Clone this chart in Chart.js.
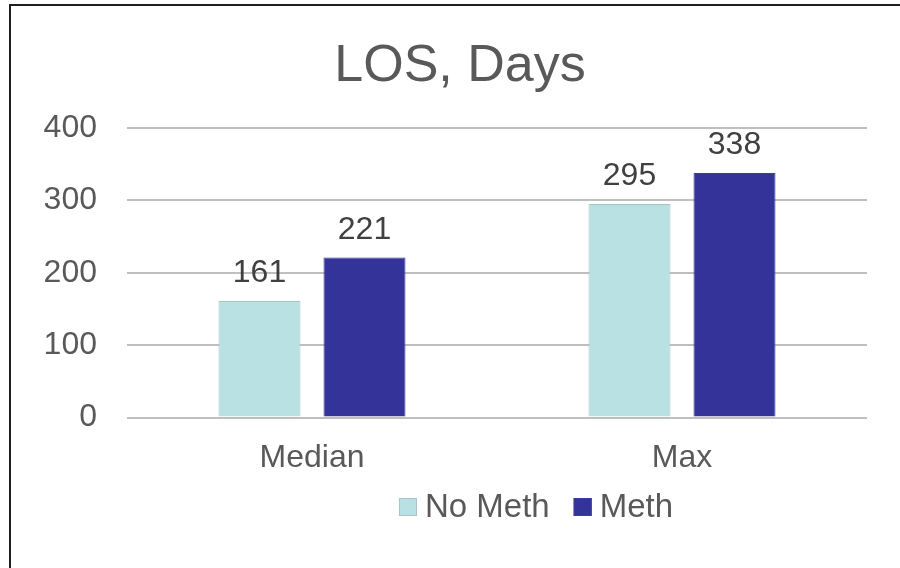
<!DOCTYPE html>
<html>
<head>
<meta charset="utf-8">
<title>LOS, Days</title>
<script src="https://cdn.jsdelivr.net/npm/chart.js@4"></script>
<style>
    html, body { margin: 0; padding: 0; background: #ffffff; }
    #wrap { position: relative; width: 900px; height: 568px; overflow: hidden; }
    #frame {
        position: absolute; left: 9px; top: 4px; width: 900px; height: 600px;
        border-top: 2px solid #1f1f1f; border-left: 2px solid #1f1f1f;
        pointer-events: none;
    }
    canvas { position: absolute; left: 0; top: 0; }
</style>
</head>
<body>
<div id="wrap">
    <canvas id="losChart" width="900" height="568"></canvas>
    <div id="frame"></div>
</div>
<script>
// chart data
var categories = ['Median', 'Max'];
var noMethValues = [161, 295];
var methValues = [221, 338];
var seriesNames = ['No Meth', 'Meth'];
var yTicks = [0, 100, 200, 300, 400];

var FONT = '"Liberation Sans", Arial, sans-serif';

// value labels above each bar
var valueLabels = {
    id: 'valueLabels',
    afterDatasetsDraw: function(chart) {
        var ctx = chart.ctx;
        ctx.save();
        ctx.font = '32px ' + FONT;
        ctx.fillStyle = '#404040';
        ctx.textAlign = 'center';
        ctx.textBaseline = 'alphabetic';
        chart.data.datasets.forEach(function(ds, i) {
            chart.getDatasetMeta(i).data.forEach(function(bar, j) {
                ctx.fillText(ds.data[j], bar.x, bar.y - 19);
            });
        });
        ctx.restore();
    }
};

// legend drawn under the axis, like the Excel one
var bottomLegend = {
    id: 'bottomLegend',
    afterDraw: function(chart) {
        var ctx = chart.ctx;
        var box = 18, gap = 8, spacing = 24;
        var centerX = 536, centerY = 507;
        ctx.save();
        ctx.font = '33px ' + FONT;
        var items = chart.data.datasets.map(function(ds) {
            return { label: ds.label, fill: ds.backgroundColor, stroke: ds.borderColor, w: ctx.measureText(ds.label).width };
        });
        var total = 0;
        items.forEach(function(it, i) {
            total += box + gap + it.w + (i < items.length - 1 ? spacing : 0);
        });
        var x = centerX - total / 2;
        ctx.textBaseline = 'middle';
        ctx.textAlign = 'left';
        items.forEach(function(it) {
            ctx.fillStyle = it.fill;
            ctx.fillRect(x, centerY - box / 2, box, box);
            ctx.strokeStyle = it.stroke;
            ctx.lineWidth = 1;
            ctx.strokeRect(x + 0.5, centerY - box / 2 + 0.5, box - 1, box - 1);
            ctx.fillStyle = '#595959';
            ctx.fillText(it.label, x + box + gap, centerY + 1);
            x += box + gap + it.w + spacing;
        });
        ctx.restore();
    }
};

var canvas = document.getElementById('losChart');

var losChart = new Chart(canvas, {
    type: 'bar',
    data: {
        labels: categories,
        datasets: [{
            label: seriesNames[0],
            data: noMethValues,
            backgroundColor: '#B9E0E3',
            borderColor: '#A9C4C7',
            borderWidth: 1,
            categoryPercentage: 0.5676,
            barPercentage: 0.781
        }, {
            label: seriesNames[1],
            data: methValues,
            backgroundColor: '#333399',
            borderColor: '#3B3BA0',
            borderWidth: 1,
            categoryPercentage: 0.5676,
            barPercentage: 0.781
        }]
    },
    options: {
        responsive: false,
        animation: false,
        devicePixelRatio: 1,
        layout: {
            padding: { left: 20, right: 0, top: 0, bottom: 78 }
        },
        plugins: {
            legend: { display: false },
            tooltip: { enabled: false },
            title: {
                display: true,
                text: 'LOS, Days',
                color: '#595959',
                font: { family: FONT, size: 52, weight: 'normal', lineHeight: 1.2 },
                padding: { top: 35, bottom: 30.6 }
            }
        },
        scales: {
            x: {
                grid: { display: false },
                border: { display: false },
                ticks: {
                    color: '#595959',
                    padding: 13,
                    font: { family: FONT, size: 32 }
                }
            },
            y: {
                min: yTicks[0],
                max: yTicks[yTicks.length - 1],
                afterFit: function(scale) { scale.width = 107; },
                afterBuildTicks: function(scale) {
                    scale.ticks = yTicks.map(function(v) { return { value: v }; });
                },
                grid: { color: '#BFBFBF', lineWidth: 2, drawTicks: false },
                border: { display: false },
                ticks: {
                    color: '#595959',
                    padding: 30,
                    font: { family: FONT, size: 32 }
                }
            },
            // empty axis on the right, only keeps the plot away from the edge
            yRight: {
                position: 'right',
                display: true,
                min: yTicks[0],
                max: yTicks[yTicks.length - 1],
                afterFit: function(scale) { scale.width = 33; },
                grid: { display: false },
                border: { display: false },
                ticks: { display: false }
            }
        }
    },
    plugins: [valueLabels, bottomLegend]
});
</script>
</body>
</html>
